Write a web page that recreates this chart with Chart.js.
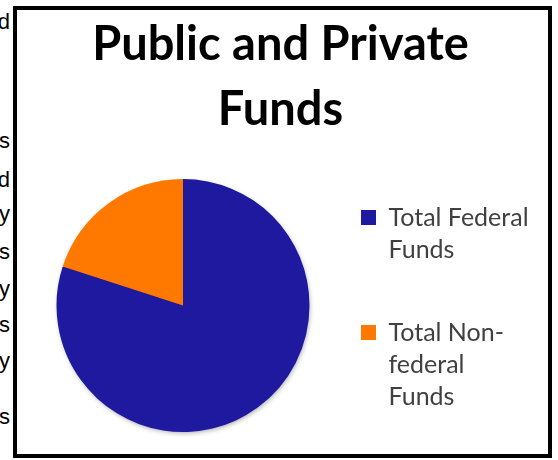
<!DOCTYPE html>
<html>
<head>
<meta charset="utf-8">
<title>Public and Private Funds</title>
<script src="https://cdn.jsdelivr.net/npm/chart.js@4.4.0/dist/chart.umd.min.js"></script>
<style>
  html, body { margin: 0; padding: 0; background: #fff; }
  body { width: 558px; height: 460px; position: relative; overflow: hidden; }
  #wrap { position: absolute; left: 0; top: 0; width: 558px; height: 460px; }
  #frame {
    position: absolute; left: 13px; top: 6px; width: 539px; height: 452px;
    box-sizing: border-box; border: 4px solid #000; pointer-events: none;
  }
  /* ends of the text lines that wrap round the chart in the document */
  .side {
    position: absolute; right: 548px;
    font: 22px "Liberation Sans", Arial, sans-serif; line-height: 22px;
    color: #000; white-space: nowrap;
  }
</style>
</head>
<body>
<div class="side" style="top:11px">d</div>
<div class="side" style="top:130px">s</div>
<div class="side" style="top:169px">d</div>
<div class="side" style="top:203px">y</div>
<div class="side" style="top:241px">s</div>
<div class="side" style="top:278px">y</div>
<div class="side" style="top:314px">s</div>
<div class="side" style="top:350px">y</div>
<div class="side" style="top:406px">s</div>

<div id="wrap"><canvas id="pieChart"></canvas></div>
<div id="frame"></div>

<script>
// Daten
const titleLines = ['Public and Private', 'Funds'];
const categories = ['Total Federal Funds', 'Total Non-federal Funds'];
const legendLines = [['Total Federal', 'Funds'], ['Total Non-', 'federal', 'Funds']];
const shares = [80, 20];
const sliceColors = ['#1E199F', '#FF7900'];

// weicher Schatten unter dem ganzen Kreis, nicht unter jedem Stück
const pieShadow = {
    id: 'pieShadow',
    beforeDatasetsDraw(chart) {
        const arc = chart.getDatasetMeta(0).data[0];
        if (!arc) return;
        const { x, y, outerRadius } = arc.getProps(['x', 'y', 'outerRadius'], true);
        const ctx = chart.ctx;
        ctx.save();
        ctx.shadowColor = 'rgba(0, 0, 0, 0.35)';
        ctx.shadowBlur = 5;
        ctx.shadowOffsetX = 1;
        ctx.shadowOffsetY = 2;
        ctx.beginPath();
        ctx.arc(x, y, outerRadius - 1, 0, Math.PI * 2);
        ctx.fillStyle = sliceColors[0];
        ctx.fill();
        ctx.restore();
    }
};

const ctx = document.getElementById('pieChart').getContext('2d');
const pieChart = new Chart(ctx, {
    type: 'pie',
    data: {
        labels: categories,
        datasets: [{
            data: shares,
            backgroundColor: sliceColors,
            borderWidth: 0
        }]
    },
    options: {
        responsive: true,
        maintainAspectRatio: false,
        animation: false,
        layout: {
            padding: { left: 24, right: 21, top: 0, bottom: 28 }
        },
        plugins: {
            title: {
                display: true,
                text: titleLines,
                color: '#000',
                font: { family: 'Lato', weight: 'bold', size: 47, lineHeight: 65 / 47 },
                padding: { top: 12, bottom: 37 }
            },
            legend: {
                display: true,
                position: 'right',
                fullSize: false,
                align: 'start',
                maxWidth: 195,
                // leerer Legendentitel nur als Abstand nach oben
                title: {
                    display: true,
                    text: '',
                    font: { size: 7, lineHeight: 1 },
                    padding: 0
                },
                labels: {
                    color: '#404040',
                    font: { family: 'Lato', size: 25, lineHeight: 32 / 25 },
                    boxWidth: 15,
                    boxHeight: 15,
                    padding: 19,
                    generateLabels(chart) {
                        const items = Chart.overrides.pie.plugins.legend.labels.generateLabels(chart);
                        return items.map((item, i) => {
                            const lines = legendLines[i].slice();
                            while (lines.length < 3) lines.push('');
                            item.text = lines;
                            item.lineWidth = 0;
                            return item;
                        });
                    }
                }
            },
            tooltip: { enabled: false }
        }
    },
    plugins: [pieShadow]
});
</script>
</body>
</html>
